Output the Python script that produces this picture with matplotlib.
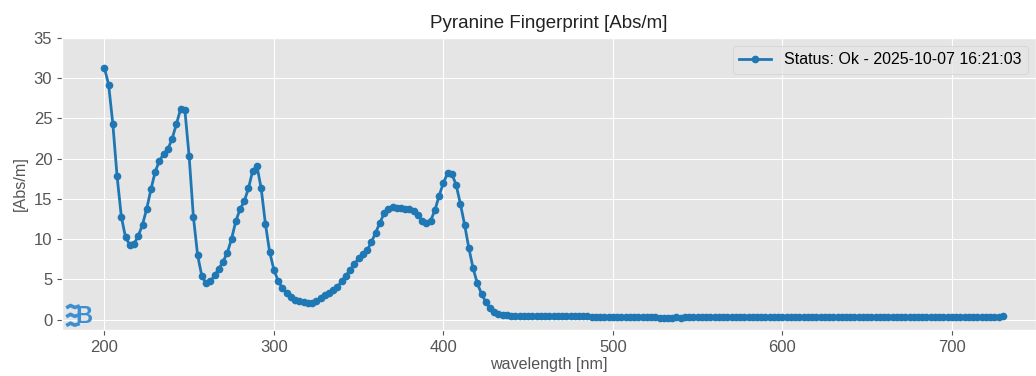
import numpy as np
import matplotlib
matplotlib.use("Agg")
import matplotlib.pyplot as plt

plt.style.use("ggplot")
plt.rcParams['font.family'] = ['Liberation Sans', 'DejaVu Sans']

# wavelength grid, 2.5 nm steps from 200 to 730 nm
wavelength = np.arange(200, 730.1, 2.5)

# absorbance, section by section
abs_200_252 = [31.3, 29.2, 24.3, 17.8, 12.8, 10.2, 9.3, 9.4, 10.4, 11.8, 13.8,
               16.2, 18.4, 19.75, 20.6, 21.2, 22.5, 24.3, 26.2, 26.0, 20.3, 12.8]
abs_255_302 = [8.0, 5.4, 4.5, 4.75, 5.5, 6.3, 7.2, 8.3, 10.0, 12.2, 13.7, 14.7,
               16.3, 18.5, 19.1, 16.3, 11.9, 8.4, 6.2, 4.8]
abs_305_357 = [3.9, 3.3, 2.75, 2.45, 2.25, 2.12, 2.04, 2.1, 2.3, 2.65, 3.0, 3.35,
               3.7, 4.1, 4.75, 5.45, 6.2, 6.9, 7.6, 8.1, 8.6, 9.6]
abs_360_415 = [10.8, 12.0, 13.2, 13.7, 14.0, 13.9, 13.85, 13.8, 13.7, 13.5, 13.0,
               12.3, 12.0, 12.3, 13.6, 15.4, 17.0, 18.2, 18.1, 16.75, 14.4, 11.8, 8.9]
abs_417_440 = [6.4, 4.5, 3.2, 2.2, 1.4, 0.95, 0.7, 0.6, 0.55, 0.5]
abs_442_730 = [0.5, 0.5, 0.48, 0.5, 0.48, 0.47, 0.48, 0.46, 0.45, 0.45,
               0.44, 0.42, 0.43, 0.41, 0.4, 0.4, 0.38, 0.38, 0.37, 0.36,
               0.35, 0.36, 0.34, 0.33, 0.33, 0.32, 0.3, 0.3, 0.29, 0.3,
               0.28, 0.27, 0.27, 0.26, 0.25, 0.25, 0.24, 0.25, 0.26, 0.25,
               0.26, 0.27, 0.27, 0.28, 0.28, 0.29, 0.28, 0.29, 0.3, 0.29,
               0.3, 0.29, 0.3, 0.3, 0.31, 0.3, 0.29, 0.3, 0.31, 0.3,
               0.29, 0.3, 0.3, 0.29, 0.3, 0.31, 0.3, 0.3, 0.29, 0.3,
               0.3, 0.31, 0.3, 0.29, 0.28, 0.3, 0.3, 0.31, 0.3, 0.3,
               0.29, 0.3, 0.31, 0.3, 0.3, 0.29, 0.3, 0.31, 0.3, 0.3,
               0.3, 0.29, 0.3, 0.31, 0.3, 0.3, 0.29, 0.3, 0.31, 0.3,
               0.3, 0.3, 0.29, 0.3, 0.31, 0.3, 0.3, 0.32, 0.33, 0.34,
               0.3, 0.3, 0.31, 0.3, 0.33, 0.4]
absorbance = (abs_200_252 + abs_255_302 + abs_305_357 + abs_360_415
              + abs_417_440 + abs_442_730)

status_label = "Status: Ok - 2025-10-07 16:21:03"

fig = plt.figure(figsize=(10.36, 3.76), dpi=100)
ax = fig.add_axes([62 / 1036, 46 / 376, 974 / 1036, 292 / 376])

ax.plot(wavelength, absorbance, color="#1f77b4", marker="o", markersize=4.5,
        linewidth=2, label=status_label)

ax.set_xlim(175, 749.6)
ax.set_ylim(-1.3, 35)
ax.set_yticks(np.arange(0, 36, 5))
ax.set_xticks([200, 300, 400, 500, 600, 700])
ax.tick_params(labelsize=12, colors="#555555")
ax.set_title("Pyranine Fingerprint [Abs/m]", fontsize=13.5, color="#222222", pad=7)
ax.set_xlabel("wavelength [nm]", fontsize=11.6, color="#555555", labelpad=2)
ax.set_ylabel("[Abs/m]", fontsize=11.6, color="#555555", labelpad=4)

leg = ax.legend(loc="upper right", fontsize=11.5, frameon=True)
leg.get_frame().set_facecolor("#e5e5e5")
leg.get_frame().set_edgecolor("#cccccc")

# small logo in the lower left corner: three waves and a B
logo_col = "#3d8fd1"
for dy in [-0.6, 0.5, 1.6]:
    ax.plot([177.5, 180, 182.5, 185.5], [dy - 0.15, dy + 0.15, dy - 0.1, dy + 0.1],
            color=logo_col, linewidth=2.6, solid_capstyle="butt")
ax.text(183, 0.35, "B", color=logo_col, fontsize=17, fontweight="bold",
        ha="left", va="center")

fig.savefig("out.png", dpi=100)
